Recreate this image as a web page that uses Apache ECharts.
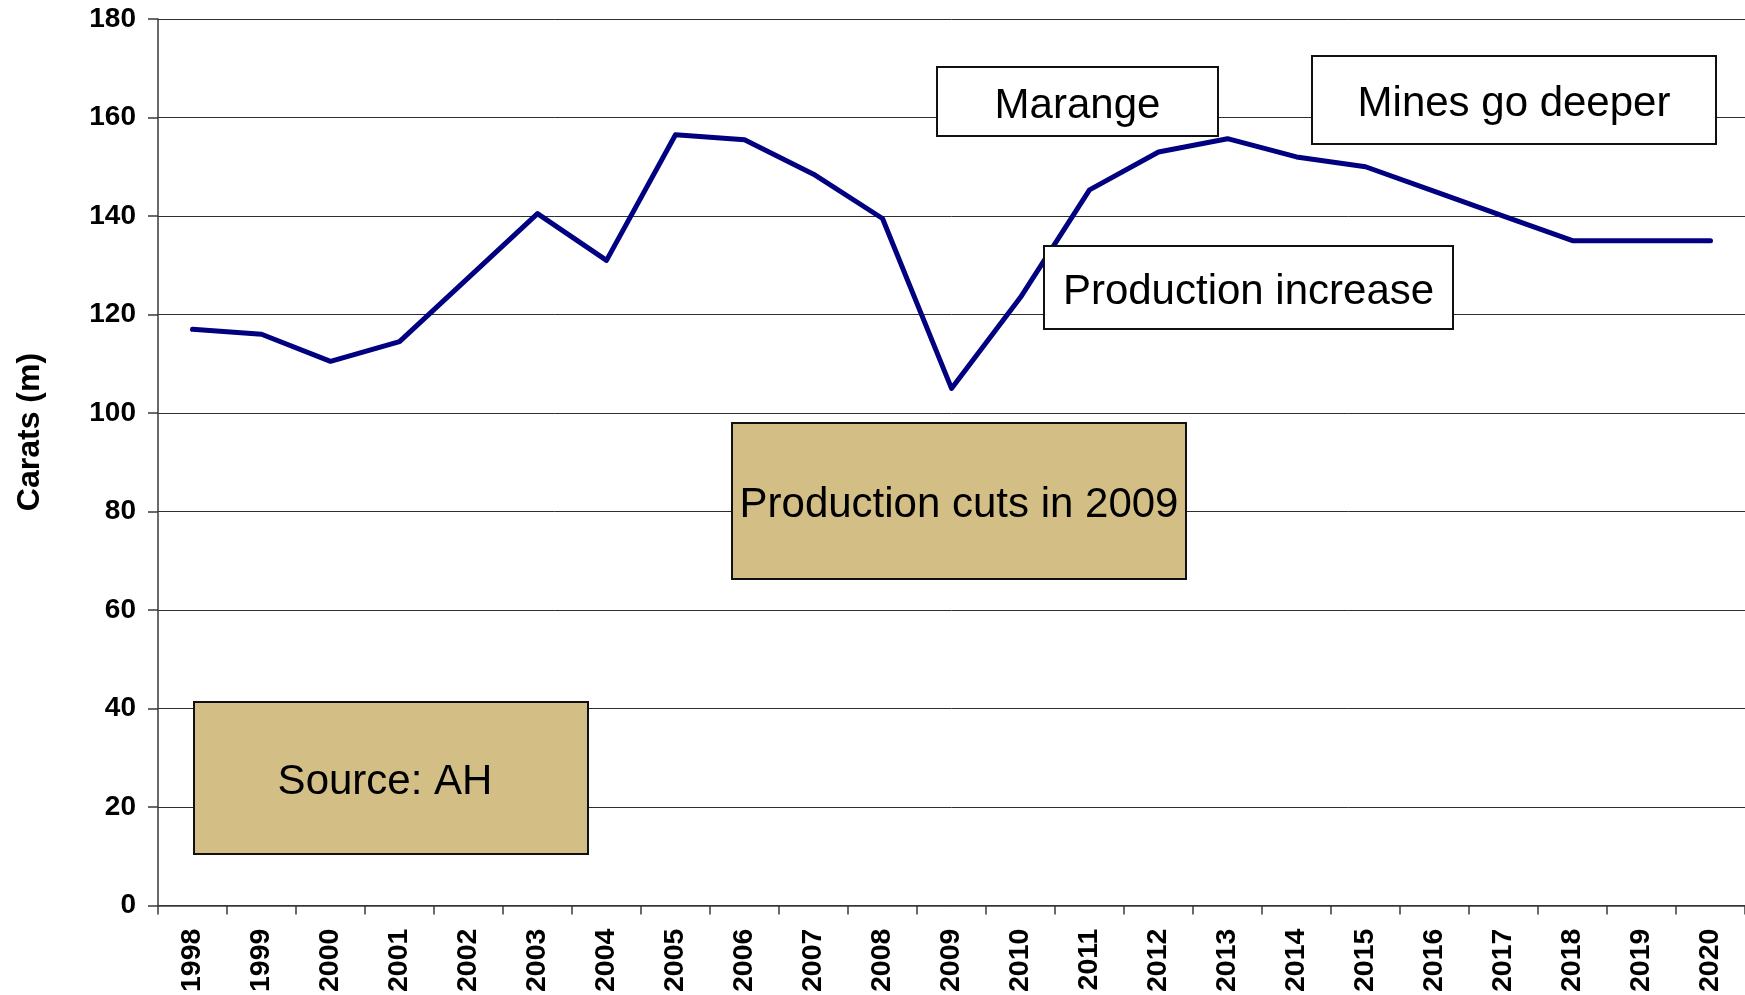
<!DOCTYPE html>
<html>
<head>
<meta charset="utf-8">
<script src="https://cdn.jsdelivr.net/npm/echarts@6/dist/echarts.min.js"></script>
<style>
  html, body { margin: 0; padding: 0; background: #fff; }
  #chart { width: 1745px; height: 995px; }
</style>
</head>
<body>
<div id="chart"></div>
<script>
// Annual diamond production, million carats
const years = ['1998','1999','2000','2001','2002','2003','2004','2005','2006','2007','2008',
               '2009','2010','2011','2012','2013','2014','2015','2016','2017','2018','2019','2020'];
const carats = [117, 116, 110.5, 114.5, 127.5, 140.5, 131, 156.5, 155.5, 148.5, 139.5,
                105, 123.5, 145.3, 153, 155.7, 152, 150, 145, 140, 135, 135, 135];
const yTicks = { min: 0, max: 180, step: 20 };
const axisTitle = 'Carats (m)';

// Callout boxes drawn over the plot (dx nudges the caption sideways)
const notes = [
  { text: 'Marange',                 x: 937,  y: 67,  w: 281, h: 69,  fill: '#ffffff', dx: 0 },
  { text: 'Mines go deeper',         x: 1312, y: 56,  w: 404, h: 88,  fill: '#ffffff', dx: 0 },
  { text: 'Production increase',     x: 1044, y: 246, w: 409, h: 83,  fill: '#ffffff', dx: 0 },
  { text: 'Production cuts in 2009', x: 732,  y: 423, w: 454, h: 156, fill: '#d3bf85', dx: 0 },
  { text: 'Source: AH',              x: 194,  y: 702, w: 394, h: 152, fill: '#d3bf85', dx: -6 }
];

const FONT = '"Liberation Sans", Arial, Helvetica, sans-serif';
const chart = echarts.init(document.getElementById('chart'), null, { renderer: 'canvas' });

const noteElements = [];
notes.forEach(n => {
  noteElements.push({
    type: 'rect',
    z: 100,
    shape: { x: n.x, y: n.y, width: n.w, height: n.h },
    style: { fill: n.fill, stroke: '#111', lineWidth: 2 }
  });
  noteElements.push({
    type: 'text',
    z: 101,
    x: n.x + n.w / 2 + n.dx,
    y: n.y + n.h / 2 + 4.5,
    style: {
      text: n.text, fill: '#000', font: '42px ' + FONT,
      align: 'center', verticalAlign: 'middle'
    }
  });
});

// Vertical axis title
noteElements.push({
  type: 'text',
  z: 101,
  x: 30,
  y: 432,
  rotation: Math.PI / 2,
  style: {
    text: axisTitle, fill: '#000', font: 'bold 32px ' + FONT,
    align: 'center', verticalAlign: 'middle'
  }
});

chart.setOption({
  animation: false,
  backgroundColor: '#ffffff',
  grid: { left: 158, right: 0, top: 19, bottom: 87, containLabel: false },
  xAxis: {
    type: 'category',
    data: years,
    boundaryGap: true,
    axisLine: { show: true, lineStyle: { color: '#3a3a3a', width: 1.5 } },
    axisTick: { show: true, length: 9, inside: false, lineStyle: { color: '#3a3a3a', width: 1.5 } },
    axisLabel: {
      rotate: 90, margin: 23, interval: 0,
      color: '#000', fontFamily: FONT, fontWeight: 'bold', fontSize: 28.5
    },
    splitLine: { show: false }
  },
  yAxis: {
    type: 'value',
    min: yTicks.min, max: yTicks.max, interval: yTicks.step,
    axisLine: { show: true, lineStyle: { color: '#3a3a3a', width: 1.5 } },
    axisTick: { show: true, length: 10, lineStyle: { color: '#3a3a3a', width: 1.5 } },
    axisLabel: { margin: 22, color: '#000', fontFamily: FONT, fontWeight: 'bold', fontSize: 28 },
    splitLine: { show: true, lineStyle: { color: '#2e2e2e', width: 1 } }
  },
  series: [{
    type: 'line',
    data: carats,
    symbol: 'none',
    lineStyle: { color: '#000080', width: 5, join: 'round', cap: 'round' },
    z: 2
  }],
  graphic: noteElements
});
</script>
</body>
</html>
